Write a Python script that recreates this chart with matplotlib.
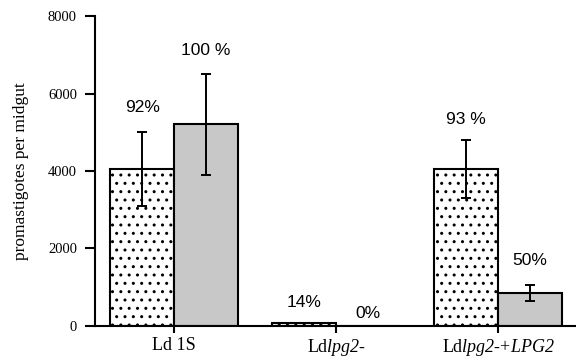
import matplotlib
matplotlib.use("Agg")
import matplotlib.pyplot as plt
import numpy as np

plt.rcParams['mathtext.fontset'] = 'custom'
plt.rcParams['mathtext.rm'] = 'Liberation Serif'
plt.rcParams['mathtext.it'] = 'Liberation Serif:italic'
plt.rcParams['mathtext.sf'] = 'Liberation Serif:italic'
plt.rcParams['hatch.linewidth'] = 1.0

categories = ["Ld 1S", "Ld$\\mathsf{lpg2}$-", "Ld$\\mathsf{lpg2}$-+$\\mathsf{LPG2}$"]
dotted_vals = [4050, 70, 4050]
dotted_err = [950, 0, 740]
gray_vals = [5200, 0, 850]
gray_err = [1300, 0, 210]
dotted_pct = ["92%", "14%", "93 %"]
gray_pct = ["100 %", "0%", "50%"]
yticks = [0, 2000, 4000, 6000, 8000]

# label offsets above the error bar tops (points) - style only
dotted_off = [17.8, 14.4, 14.9]
gray_off = [17.3, 9.0, 17.3]

fig = plt.figure(figsize=(5.76, 3.59), dpi=100)
ax = fig.add_axes([0.165, 0.093, 0.835, 0.862])

x = np.arange(len(categories))
w = 0.395
ax.bar(x - w / 2, dotted_vals, w, color='white', edgecolor='black',
       hatch='..', linewidth=1.5, zorder=2)
ax.bar(x + w / 2, gray_vals, w, color='#c8c8c8', edgecolor='black',
       linewidth=1.5, zorder=2)

for xs, vals, errs in [(x - w / 2, dotted_vals, dotted_err), (x + w / 2, gray_vals, gray_err)]:
    for xi, v, e in zip(xs, vals, errs):
        if e > 0:
            ax.errorbar(xi, v, yerr=e, fmt='none', ecolor='black', elinewidth=1.4,
                        capsize=3.5, capthick=1.4, zorder=3)

for xs, vals, errs, labels, offs in [(x - w / 2, dotted_vals, dotted_err, dotted_pct, dotted_off),
                                     (x + w / 2, gray_vals, gray_err, gray_pct, gray_off)]:
    for xi, v, e, lab, o in zip(xs, vals, errs, labels, offs):
        ax.annotate(lab, (xi, v + e), xytext=(0, o), textcoords='offset points',
                    ha='center', va='center', fontsize=12.5, family='Liberation Sans')

ax.set_xlim(-0.488, 2.48)
ax.set_ylim(0, 8000)
ax.set_yticks(yticks)
ax.set_yticklabels([str(t) for t in yticks], family='Liberation Serif', fontsize=10.5)
ax.set_xticks(x)
ax.set_xticklabels(categories, family='Liberation Serif', fontsize=13)
ax.tick_params(axis='y', direction='out', length=7, width=1.5, pad=6)
ax.tick_params(axis='x', direction='out', length=5, width=1.5, pad=3)
ax.spines['top'].set_visible(False)
ax.spines['right'].set_visible(False)
ax.spines['left'].set_linewidth(1.5)
ax.spines['bottom'].set_linewidth(1.5)
ax.set_ylabel("promastigotes per midgut", family='Liberation Serif', fontsize=12.5, labelpad=14)

fig.savefig("out.png", dpi=100)
